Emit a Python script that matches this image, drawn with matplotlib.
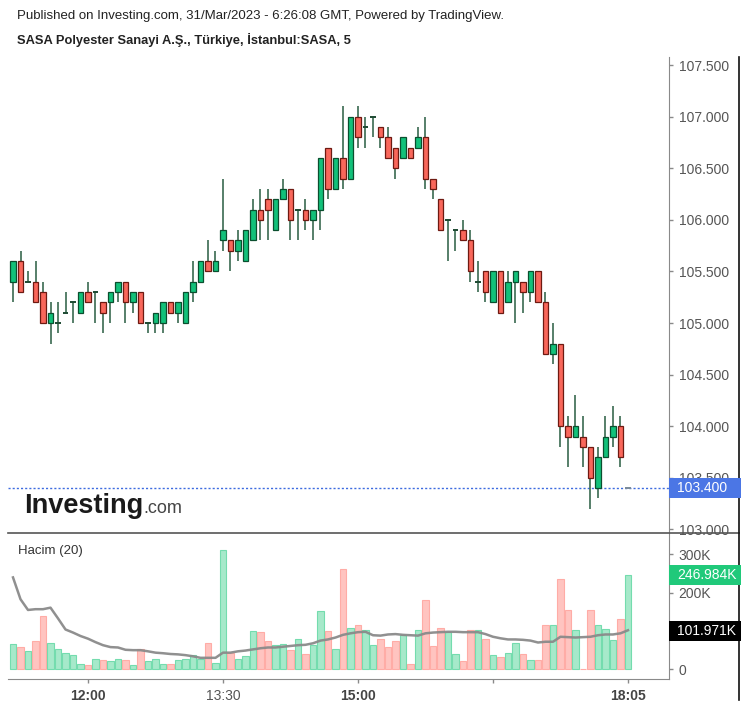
import matplotlib
matplotlib.use('Agg')
import matplotlib.pyplot as plt
from matplotlib.patches import Rectangle
from matplotlib.lines import Line2D
import numpy as np

plt.rcParams['font.family'] = ['Liberation Sans', 'DejaVu Sans']

# ---------------- data (5-minute candles, 11:10 ... 17:55, 18:05) ----------------
opens = [105.4, 105.6, 105.4, 105.4, 105.3, 105.0, 105.0, 105.1, 105.2, 105.1,
         105.3, 105.3, 105.2, 105.2, 105.3, 105.4, 105.2, 105.3, 105.0, 105.0,
         105.0, 105.2, 105.1, 105.0, 105.3, 105.4, 105.6, 105.5, 105.8, 105.8,
         105.7, 105.6, 105.8, 106.1, 106.2, 105.9, 106.2, 106.3, 106.1, 106.1,
         106.0, 106.1, 106.7, 106.3, 106.6, 106.4, 107.0, 106.9, 107.0, 106.9,
         106.8, 106.7, 106.6, 106.7, 106.7, 106.8, 106.4, 106.2, 106.0, 105.9,
         105.9, 105.8, 105.4, 105.5, 105.2, 105.5, 105.2, 105.4, 105.4, 105.3,
         105.5, 105.2, 104.7, 104.8, 104.0, 103.9, 103.9, 103.8, 103.4, 103.7,
         103.9, 104.0, 103.4]
highs = [105.6, 105.7, 105.5, 105.6, 105.4, 105.2, 105.2, 105.3, 105.2, 105.3,
         105.4, 105.3, 105.2, 105.3, 105.4, 105.4, 105.3, 105.3, 105.0, 105.1,
         105.2, 105.2, 105.2, 105.3, 105.6, 105.6, 105.8, 105.7, 106.4, 105.8,
         105.9, 105.9, 106.2, 106.3, 106.3, 106.2, 106.4, 106.3, 106.1, 106.2,
         106.1, 106.6, 106.7, 106.6, 107.1, 107.0, 107.1, 107.0, 107.0, 106.9,
         106.9, 106.7, 106.8, 106.7, 106.9, 107.0, 106.4, 106.2, 106.0, 105.9,
         106.0, 105.9, 105.6, 105.5, 105.5, 105.5, 105.5, 105.5, 105.4, 105.5,
         105.5, 105.3, 105.0, 104.8, 104.1, 104.3, 104.1, 103.8, 103.8, 104.1,
         104.2, 104.1, 103.4]
lows = [105.2, 105.3, 105.4, 105.2, 105.0, 104.8, 104.9, 105.1, 105.0, 105.1,
        105.2, 105.0, 104.9, 105.0, 105.2, 105.0, 105.1, 105.0, 104.9, 104.9,
        104.9, 105.1, 105.0, 105.0, 105.2, 105.4, 105.5, 105.5, 105.7, 105.5,
        105.6, 105.6, 105.8, 105.8, 105.8, 105.9, 106.2, 105.8, 105.8, 105.9,
        105.8, 105.9, 106.2, 106.3, 106.3, 106.4, 106.7, 106.7, 106.8, 106.7,
        106.6, 106.4, 106.6, 106.6, 106.7, 106.3, 106.2, 105.9, 105.6, 105.7,
        105.8, 105.4, 105.3, 105.2, 105.2, 105.1, 105.2, 105.0, 105.1, 105.2,
        105.2, 104.7, 104.6, 103.8, 103.6, 103.9, 103.6, 103.2, 103.3, 103.7,
        103.8, 103.6, 103.4]
closes = [105.6, 105.3, 105.4, 105.2, 105.0, 105.1, 105.0, 105.1, 105.2, 105.3,
          105.2, 105.3, 105.1, 105.3, 105.4, 105.2, 105.3, 105.0, 105.0, 105.1,
          105.2, 105.1, 105.2, 105.3, 105.4, 105.6, 105.5, 105.6, 105.9, 105.7,
          105.8, 105.9, 106.1, 106.0, 106.1, 106.2, 106.3, 106.0, 106.1, 106.0,
          106.1, 106.6, 106.3, 106.6, 106.4, 107.0, 106.8, 106.9, 107.0, 106.8,
          106.6, 106.5, 106.8, 106.6, 106.8, 106.4, 106.3, 105.9, 106.0, 105.9,
          105.8, 105.5, 105.4, 105.3, 105.5, 105.1, 105.4, 105.5, 105.3, 105.5,
          105.2, 104.7, 104.8, 104.0, 103.9, 104.0, 103.8, 103.5, 103.7, 103.9,
          104.0, 103.7, 103.4]
# volume in thousands
volumes = [66, 57, 47, 74, 138, 70, 54, 43, 37, 14,
           10, 28, 24, 22, 28, 24, 10, 54, 22, 28,
           14, 14, 24, 28, 37, 28, 70, 17, 311, 43,
           28, 34, 100, 97, 73, 63, 66, 50, 79, 40,
           63, 152, 100, 53, 262, 109, 115, 103, 63, 79,
           57, 73, 89, 14, 103, 181, 60, 109, 97, 40,
           21, 103, 103, 79, 37, 31, 43, 70, 40, 24,
           24, 115, 115, 236, 155, 103, 0, 155, 115, 105,
           76, 131, 247]
# 20-period volume moving average (thousands)
vol_ma = [240, 183, 155, 157, 157, 161, 133, 104, 96, 87,
          80, 71, 63, 58, 57, 51, 50, 50, 47, 43.5,
          42, 40, 39, 37, 34, 30, 30, 30, 43.5, 43.5,
          47, 49, 52, 55, 57, 57, 59, 61, 63, 64,
          68, 75, 78, 83, 90, 94, 97, 98, 89, 88,
          91, 92, 90, 89, 88, 94, 96, 97, 98, 98,
          97, 97, 97, 92, 85, 81, 78, 78, 77, 75,
          70, 72, 72, 85, 84, 83, 84, 85, 89, 91,
          91, 94, 102]
time_tick_idx = [10, 28, 46, 64, 82]
time_tick_labels = ['12:00', '13:30', '15:00', '', '18:05']
time_tick_bold = [True, False, True, False, True]
price_ticks = [103.0, 103.5, 104.0, 104.5, 105.0, 105.5, 106.0, 106.5, 107.0, 107.5]
vol_ticks = [0, 100, 200, 300]
vol_tick_labels = ['0', '', '200K', '300K']
last_price_label = '103.400'
last_price = 103.4
last_vol_label = '246.984K'
last_ma_label = '101.971K'

# ---------------- figure ----------------
W, H = 747, 707
fig = plt.figure(figsize=(W / 100, H / 100), dpi=100)
fig.patch.set_facecolor('white')


def fx(x):
    return x / W


def fy(y):
    return 1 - y / H


L, R = 8, 669
ax = fig.add_axes([fx(L), fy(533), fx(R) - fx(L), fy(57) - fy(533)])
axv = fig.add_axes([fx(L), fy(679), fx(R) - fx(L), fy(533) - fy(679)])

idx = np.arange(len(opens))
o = np.array(opens); c = np.array(closes); h = np.array(highs); lo = np.array(lows)
up = c >= o

GREEN, GREEN_EDGE = '#12c17a', '#0b4f2f'
RED, RED_EDGE = '#f9675b', '#6e1a12'
WICK = '#3a6a50'

ax.vlines(idx, lo, h, color=WICK, lw=1.2, zorder=2)
body_w = 0.76
nz = c != o
ax.bar(idx[nz & up], (c - o)[nz & up], bottom=o[nz & up], width=body_w,
       color=GREEN, edgecolor=GREEN_EDGE, lw=0.9, zorder=3)
ax.bar(idx[nz & ~up], (o - c)[nz & ~up], bottom=c[nz & ~up], width=body_w,
       color=RED, edgecolor=RED_EDGE, lw=0.9, zorder=3)
dj = ~nz
ax.hlines(o[dj][:-1], idx[dj][:-1] - body_w / 2, idx[dj][:-1] + body_w / 2,
          color='#1d4a32', lw=1.4, zorder=3)
ax.hlines(o[-1:], idx[-1:] - body_w / 2, idx[-1:] + body_w / 2,
          color='#7a8a99', lw=1.4, zorder=3)

ax.axhline(last_price, color='#3d6be0', lw=1.0, ls=(0, (1.5, 1.5)), zorder=1)

xlim = (-0.667, 87.47)
ax.set_xlim(*xlim)
ax.set_ylim(102.965, 107.578)
for s in ['top', 'left', 'bottom']:
    ax.spines[s].set_visible(False)
ax.spines['right'].set_color('#8a8a8a')
ax.set_xticks([])
ax.yaxis.tick_right()
ax.set_yticks(price_ticks)
ax.set_yticklabels([f'{v:.3f}' for v in price_ticks])
ax.tick_params(axis='y', direction='out', length=3, width=1, color='#8a8a8a',
               labelcolor='#555555', labelsize=10, pad=4)

# volume panel
vol = np.array(volumes, dtype=float)
vcolors = np.where(up, '#a6e9ca', '#ffc4c0')
vedges = np.where(up, '#74dcae', '#ffaca6')
axv.bar(idx, vol, width=0.86, color=vcolors, edgecolor=vedges, lw=0.8, zorder=2)
axv.plot(idx, vol_ma, color='#8a8a8a', lw=1.8, alpha=0.95, zorder=3)
axv.set_xlim(*xlim)
axv.set_ylim(-25.3, 356)
axv.spines['top'].set_visible(False)
axv.spines['left'].set_visible(False)
axv.spines['right'].set_color('#8a8a8a')
axv.spines['bottom'].set_color('#8a8a8a')
axv.yaxis.tick_right()
axv.set_yticks(vol_ticks)
axv.set_yticklabels(vol_tick_labels)
axv.tick_params(axis='y', direction='out', length=3, width=1, color='#8a8a8a',
                labelcolor='#555555', labelsize=10, pad=4)
axv.set_xticks(time_tick_idx)
axv.set_xticklabels(time_tick_labels)
axv.tick_params(axis='x', direction='out', length=3, width=1, color='#8a8a8a',
                labelcolor='#444444', labelsize=10, pad=4)
for lab, b in zip(axv.get_xticklabels(), time_tick_bold):
    lab.set_fontweight('bold' if b else 'normal')
    if not b:
        lab.set_color('#555555')

# separators / borders
fig.add_artist(Line2D([fx(L), fx(739)], [fy(533), fy(533)], color='#555555', lw=1.2))
fig.add_artist(Line2D([fx(739), fx(739)], [fy(57), fy(700)], color='#111111', lw=1.2))


# value labels on axis
def axis_label(y0, y1, text, fc):
    fig.add_artist(Rectangle((fx(R), fy(y1)), fx(741) - fx(R), fy(y0) - fy(y1),
                             facecolor=fc, edgecolor='none', zorder=5))
    fig.text(fx(677), fy((y0 + y1) / 2), text, color='white', fontsize=10,
             va='center', ha='left', zorder=6)


axis_label(478, 498, last_price_label, '#4b76e5')
axis_label(565, 585, last_vol_label, '#20c97a')
axis_label(621, 641, last_ma_label, '#000000')

# header texts
fig.text(fx(17), fy(16), 'Published on Investing.com, 31/Mar/2023 - 6:26:08 GMT, Powered by TradingView.',
         fontsize=9.5, color='#222222', va='center', ha='left')
fig.text(fx(17), fy(40), 'SASA Polyester Sanayi A.Ş., Türkiye, İstanbul:SASA, 5',
         fontsize=9.3, fontweight='bold', color='#222222', va='center', ha='left')
fig.text(fx(18), fy(551), 'Hacim (20)', fontsize=9.5, color='#333333', va='center', ha='left')

# watermark
t1 = fig.text(fx(24), fy(513), 'Investing', fontsize=19.5, fontweight='bold',
              color='#1a1a1a', va='baseline', ha='left')
fig.canvas.draw()
bb = t1.get_window_extent()
fig.text(bb.x1 / W, fy(513), '.com', fontsize=13, color='#444444',
         va='baseline', ha='left')

fig.savefig('out.png', dpi=100, facecolor='white')
